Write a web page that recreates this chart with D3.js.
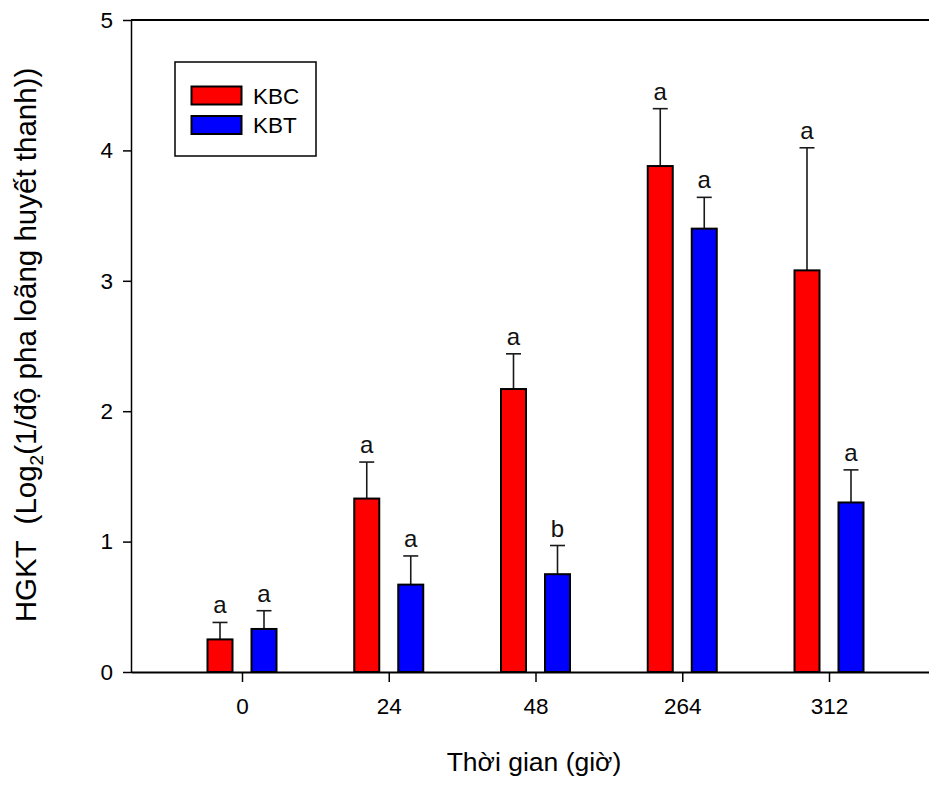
<!DOCTYPE html>
<html>
<head>
<meta charset="utf-8">
<script src="https://cdn.jsdelivr.net/npm/d3@7"></script>
<style>
  html, body { margin: 0; padding: 0; background: #fff; }
  svg { display: block; font-family: Arial, "Liberation Sans", sans-serif; }
</style>
</head>
<body>
<svg id="chart" width="929" height="786"></svg>
<script>
const categories = ["0", "24", "48", "264", "312"];
const series = ["KBC", "KBT"];
const kbcMean = [0.25, 1.33, 2.17, 3.88, 3.08];
const kbcErr  = [0.13, 0.28, 0.27, 0.44, 0.94];
const kbtMean = [0.33, 0.67, 0.75, 3.40, 1.30];
const kbtErr  = [0.14, 0.22, 0.22, 0.24, 0.25];
const kbcLetters = ["a", "a", "a", "a", "a"];
const kbtLetters = ["a", "a", "b", "a", "a"];
const yTicks = [0, 1, 2, 3, 4, 5];
const colors = { KBC: "#ff0000", KBT: "#0000ff" };

const svg = d3.select("#chart");
const plotL = 132, plotR = 929, plotT = 20, plotB = 672;

const y = d3.scaleLinear().domain([0, 5]).range([plotB, plotT]);
const x0 = d3.scalePoint().domain(categories).range([242, 829]);
const x1 = d3.scaleBand().domain(series).range([-34.5, 34.5]).paddingInner(19 / 44);

const rows = [];
categories.forEach((c, i) => {
  rows.push({ cat: c, s: "KBC", v: kbcMean[i], e: kbcErr[i], l: kbcLetters[i] });
  rows.push({ cat: c, s: "KBT", v: kbtMean[i], e: kbtErr[i], l: kbtLetters[i] });
});
const cx = d => x0(d.cat) + x1(d.s) + x1.bandwidth() / 2;

// error bars (upper only)
const eb = svg.append("g").attr("stroke", "#1a1a1a").attr("stroke-width", 1.6);
eb.selectAll("line.v").data(rows).join("line").attr("class", "v")
  .attr("x1", cx).attr("x2", cx)
  .attr("y1", d => y(d.v)).attr("y2", d => y(d.v + d.e));
eb.selectAll("line.c").data(rows).join("line").attr("class", "c")
  .attr("x1", d => cx(d) - 7.5).attr("x2", d => cx(d) + 7.5)
  .attr("y1", d => y(d.v + d.e)).attr("y2", d => y(d.v + d.e));

// bars
svg.append("g").selectAll("rect").data(rows).join("rect")
  .attr("x", d => x0(d.cat) + x1(d.s))
  .attr("width", x1.bandwidth())
  .attr("y", d => y(d.v))
  .attr("height", d => y(0) - y(d.v))
  .attr("fill", d => colors[d.s])
  .attr("stroke", "#000").attr("stroke-width", 2);

// letters
svg.append("g").selectAll("text").data(rows).join("text")
  .attr("x", cx).attr("y", d => y(d.v + d.e) - 9)
  .attr("text-anchor", "middle").attr("font-size", 24).attr("fill", "#111")
  .text(d => d.l);

// y axis
const yAxis = d3.axisLeft(y).tickValues(yTicks).tickSize(9).tickPadding(10).tickFormat(d3.format("d"));
const gy = svg.append("g").attr("transform", `translate(${plotL},0)`).call(yAxis);
gy.select(".domain").attr("d", `M-0.5,${plotT}V${plotB}`).attr("stroke", "#000").attr("stroke-width", 1.5);
gy.selectAll(".tick line").attr("stroke", "#000").attr("stroke-width", 1.5);
gy.selectAll(".tick text").attr("font-size", 22.5).attr("font-family", "Arial, 'Liberation Sans', sans-serif").attr("fill", "#000");

// x axis
const xAxis = d3.axisBottom(x0).tickSize(10).tickPadding(16);
const gx = svg.append("g").attr("transform", `translate(0,${plotB})`).call(xAxis);
gx.select(".domain").attr("d", `M${plotL},0.5H${plotR}`).attr("stroke", "#000").attr("stroke-width", 2);
gx.selectAll(".tick line").attr("stroke", "#000").attr("stroke-width", 1.5);
gx.selectAll(".tick text").attr("font-size", 22.5).attr("font-family", "Arial, 'Liberation Sans', sans-serif").attr("fill", "#000");

// top frame
svg.append("line").attr("x1", plotL - 1).attr("x2", plotR).attr("y1", plotT).attr("y2", plotT)
  .attr("stroke", "#000").attr("stroke-width", 2);

// axis titles
svg.append("text").attr("x", 534).attr("y", 771).attr("text-anchor", "middle")
  .attr("font-size", 26.5).attr("fill", "#000").text("Thời gian (giờ)");

const yl = svg.append("text")
  .attr("transform", "translate(36,345) rotate(-90)")
  .attr("text-anchor", "middle").attr("font-size", 29.5).attr("fill", "#000")
  .attr("xml:space", "preserve").style("white-space", "pre");
yl.append("tspan").text("HGKT  (Log");
yl.append("tspan").attr("font-size", 19).attr("dy", 7).text("2");
yl.append("tspan").attr("dy", -7).text("(1/độ pha loãng huyết thanh))");

// legend
const lg = svg.append("g");
lg.append("rect").attr("x", 175).attr("y", 62).attr("width", 141).attr("height", 94)
  .attr("fill", "#fff").attr("stroke", "#000").attr("stroke-width", 1.5);
series.forEach((s, i) => {
  lg.append("rect").attr("x", 191.5).attr("y", 86.5 + i * 29.5).attr("width", 50).attr("height", 18)
    .attr("fill", colors[s]).attr("stroke", "#000").attr("stroke-width", 2);
  lg.append("text").attr("x", 253).attr("y", 103.5 + i * 29.5).attr("font-size", 22.5)
    .attr("fill", "#000").text(s);
});
</script>
</body>
</html>
